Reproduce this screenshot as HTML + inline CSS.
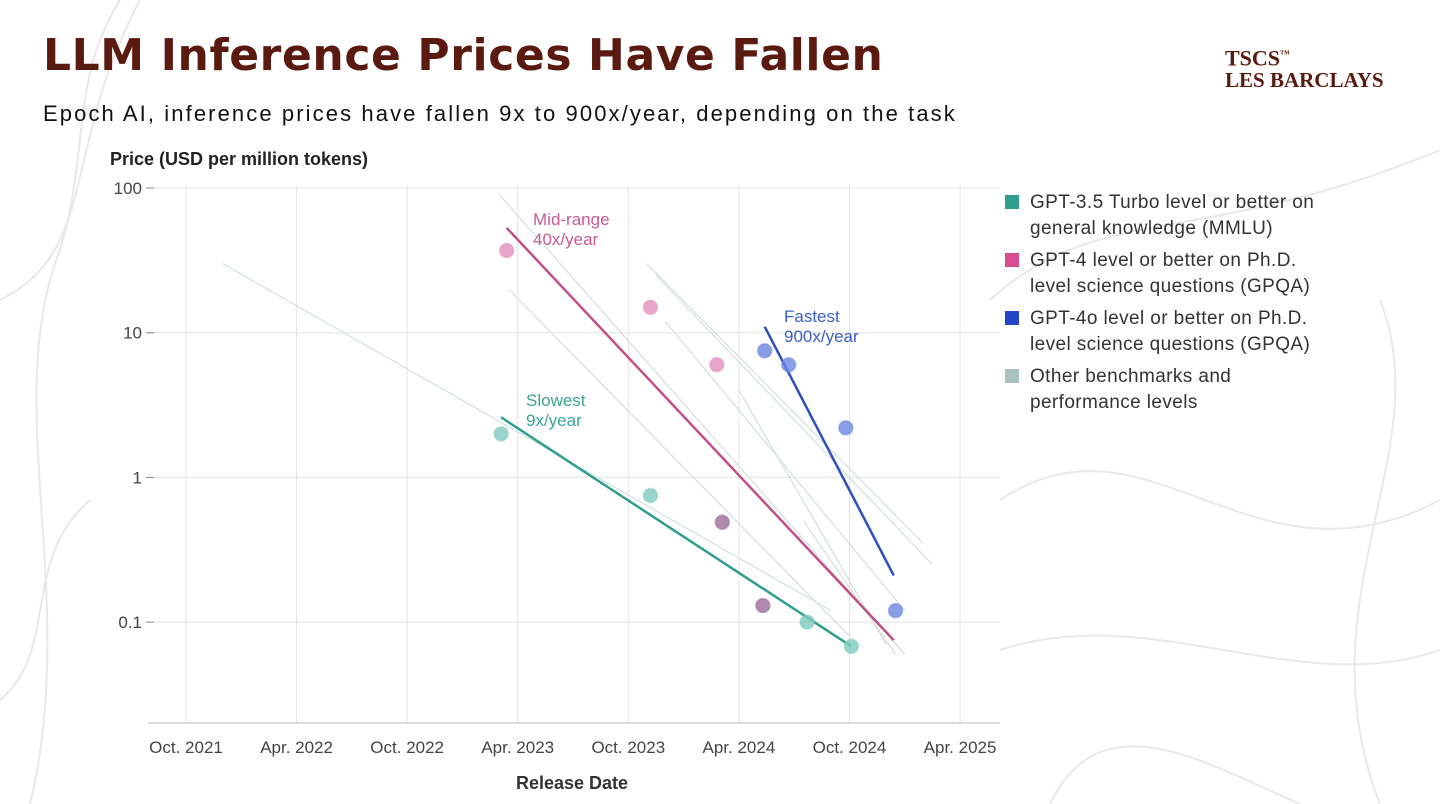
<!DOCTYPE html>
<html><head><meta charset="utf-8">
<style>
body{margin:0;width:1440px;height:804px;background:#fff;overflow:hidden;font-family:"Liberation Sans",sans-serif;position:relative}
#title{position:absolute;left:43px;top:30px;font-family:"DejaVu Sans",sans-serif;font-size:44px;font-weight:bold;color:#5b1a10;letter-spacing:0.6px;margin:0;white-space:nowrap}
#sub{position:absolute;left:43px;top:101px;font-size:22px;color:#111;letter-spacing:2.1px;white-space:nowrap}
#logo{position:absolute;left:1225px;top:44px;font-family:"Liberation Serif",serif;color:#5b1a10;font-weight:bold;line-height:22px}
svg{position:absolute;left:0;top:0}
</style></head><body>
<svg width="1440" height="804">
<g fill="none" stroke="#ece6ea" stroke-width="2">
<path d="M0,300 C100,250 60,150 140,0"/><path d="M30,804 C80,600 0,400 60,250 C90,150 70,80 120,0"/>
<path d="M990,300 C1100,200 1200,250 1440,150"/><path d="M1000,500 C1150,400 1250,600 1440,500"/>
<path d="M1000,650 C1150,600 1300,700 1440,650"/><path d="M1380,804 C1300,600 1440,450 1380,300"/>
<path d="M1050,804 C1100,700 1200,760 1300,804"/><path d="M0,700 C60,650 20,560 90,500"/>
</g></svg>
<h1 id="title">LLM Inference Prices Have Fallen</h1>
<div id="sub">Epoch AI, inference prices have fallen 9x to 900x/year, depending on the task</div>
<div id="logo"><div style="font-size:22px">TSCS<sup style="font-size:10px">™</sup></div><div style="font-size:21px">LES BARCLAYS</div></div>
<svg id="chart" width="1440" height="804"></svg>
<script>
const xTicks=["Oct. 2021","Apr. 2022","Oct. 2022","Apr. 2023","Oct. 2023","Apr. 2024","Oct. 2024","Apr. 2025"];
const yTicks=[100,10,1,0.1];
const pinkMonths=[17.4,25.2,28.8];
const pinkPrices=[37,15,6];
const purpleMonths=[29.1,31.3];
const purplePrices=[0.49,0.13];
const blueMonths=[31.4,32.7,35.8,38.5];
const bluePrices=[7.5,6,2.2,0.12];
const tealMonths=[17.1,25.2,33.7,36.1];
const tealPrices=[2,0.75,0.1,0.068];
const pinkTrend=[17.4,53,38.4,0.075];
const tealTrend=[17.1,2.6,36.1,0.068];
const blueTrend=[31.4,11,38.4,0.21];
const grayTrends=[[17.0,90,39,0.06],[25.0,30,40,0.35],[25.5,25,40.5,0.25],[2,30,35,0.12],[33.5,0.5,38.5,0.06],[17.5,20,36,0.08],[26,12,39,0.12],[30,4,38,0.07]];

const NS="http://www.w3.org/2000/svg",svg=document.getElementById('chart');
const X=m=>186+m*18.43, Y=v=>188+(2-Math.log10(v))*144.7;
function el(t,a,p){const e=document.createElementNS(NS,t);for(const k in a)e.setAttribute(k,a[k]);(p||svg).appendChild(e);return e;}
xTicks.forEach((t,i)=>{const x=X(i*6);
 const g=el('line',{x1:x,y1:185,x2:x,y2:723,stroke:'#e4e4e4','stroke-width':1});
 
 
 const tx=el('text',{x:x,y:753,'text-anchor':'middle','font-size':17,fill:'#444'});tx.textContent=t;
 
 });
yTicks.forEach(v=>{const y=Y(v);
 const g=el('line',{x1:148,y1:y,x2:1000,y2:y,stroke:'#e4e4e4','stroke-width':1});
 
 
 el('line',{x1:146,y1:y,x2:154,y2:y,stroke:'#888'});
 const tx=el('text',{x:142,y:y+6,'text-anchor':'end','font-size':17,fill:'#444'});tx.textContent=String(v);
 
 });
const ax=el('line',{x1:148,y1:723,x2:1000,y2:723,stroke:'#bbb'});


let t=el('text',{x:110,y:165,'font-size':18,'font-weight':'bold',fill:'#222'});t.textContent='Price (USD per million tokens)';


t=el('text',{x:572,y:789,'text-anchor':'middle','font-size':18,'font-weight':'bold',fill:'#333'});t.textContent='Release Date';


grayTrends.forEach(g=>{const l=el('line',{x1:X(g[0]),y1:Y(g[1]),x2:X(g[2]),y2:Y(g[3]),stroke:'#d3e0dd','stroke-width':1.2});
 
 });
function trend(tr,c,n){const l=el('line',{x1:X(tr[0]),y1:Y(tr[1]),x2:X(tr[2]),y2:Y(tr[3]),stroke:c,'stroke-width':2.5});
 
 }
trend(pinkTrend,'#c0508a','midrange-trend-line');
trend(tealTrend,'#2f9e8f','slowest-trend-line');
trend(blueTrend,'#2f4fc0','fastest-trend-line');
function pts(ms,vs,c,n){ms.forEach((m,i)=>{const p=el('circle',{cx:X(m),cy:Y(vs[i]),r:7,fill:c,'fill-opacity':0.8,stroke:c,'stroke-opacity':0.5,'stroke-width':1.5});
 
 });}
pts(pinkMonths,pinkPrices,'#e48fbb','gpqa-gpt4-point');
pts(purpleMonths,purplePrices,'#9e6a9a','gpqa-gpt4-point');
pts(tealMonths,tealPrices,'#7fcbbf','mmlu-point');
pts(blueMonths,bluePrices,'#6a86e0','gpqa-gpt4o-point');
function lab(x,y,l1,l2,c,n){const tx=el('text',{x:x,y:y,'font-size':17,fill:c});tx.textContent=l1;
 const t2=el('text',{x:x,y:y+20,'font-size':17,fill:c});t2.textContent=l2;
 
 }
lab(533,225,'Mid-range','40x/year','#c75a94','midrange-label');
lab(784,322,'Fastest','900x/year','#3a5fc8','fastest-label');
lab(526,406,'Slowest','9x/year','#3ba394','slowest-label');
const leg=[['#2f9e8f','GPT-3.5 Turbo level or better on','general knowledge (MMLU)'],['#d94c92','GPT-4 level or better on Ph.D.','level science questions (GPQA)'],['#2346c8','GPT-4o level or better on Ph.D.','level science questions (GPQA)'],['#a9c2c3','Other benchmarks and','performance levels']];
leg.forEach((l,i)=>{const y=202+i*58;
 const r=el('rect',{x:1005,y:y-7,width:14,height:14,fill:l[0]});
 
 
 const a=el('text',{x:1030,y:y+6,'font-size':19,fill:'#333','letter-spacing':0.4});a.textContent=l[1];
 
 
 const b=el('text',{x:1030,y:y+32,'font-size':19,fill:'#333','letter-spacing':0.4});b.textContent=l[2];});
</script>
</body></html>
